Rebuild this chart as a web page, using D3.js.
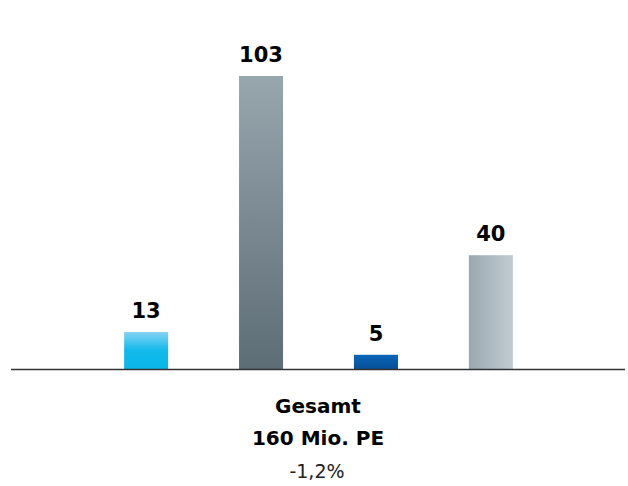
<!DOCTYPE html>
<html><head><meta charset="utf-8">
<script src="https://cdn.jsdelivr.net/npm/d3@7"></script>
<style>body{margin:0;background:#fff}svg{display:block}</style>
</head><body>
<script>
const categories = ["A","B","C","D"];
const values = [13,103,5,40];
const totalLabel = "Gesamt";
const totalValue = "160 Mio. PE";
const change = "-1,2%";

const W=628,H=486;
const svg=d3.select("body").append("svg").attr("width",W).attr("height",H);
const defs=svg.append("defs");
const grads=[
 {id:"g0",x2:"0",y2:"1",stops:[["0%","#86d3f3"],["50%","#12b9eb"],["100%","#0ab6e9"]]},
 {id:"g1",x2:"0",y2:"1",stops:[["0%","#98a6ae"],["100%","#5d6d75"]]},
 {id:"g2",x2:"0",y2:"1",stops:[["0%","#0b66b8"],["100%","#064f97"]]},
 {id:"g3",x2:"1",y2:"0",stops:[["0%","#9aa8b0"],["100%","#c1ccd2"]]}
];
grads.forEach(g=>{
 const lg=defs.append("linearGradient").attr("id",g.id).attr("x1","0").attr("y1","0").attr("x2",g.x2).attr("y2",g.y2);
 g.stops.forEach(s=>lg.append("stop").attr("offset",s[0]).attr("stop-color",s[1]));
});
const base=369;
const x=d3.scaleBand().domain(categories).range([88.5,548.5]).paddingInner(0.617).paddingOuter(0.31);
const y=d3.scaleLinear().domain([0,103]).range([base,76]);
const font="'DejaVu Sans', sans-serif";
svg.selectAll("rect.bar").data(values).join("rect").attr("class","bar")
 .attr("x",(d,i)=>x(categories[i])).attr("width",x.bandwidth())
 .attr("y",d=>y(d)).attr("height",d=>base-y(d))
 .attr("fill",(d,i)=>`url(#g${i})`);
svg.selectAll("text.val").data(values).join("text").attr("class","val")
 .attr("x",(d,i)=>x(categories[i])+x.bandwidth()/2).attr("y",d=>y(d)-14)
 .attr("text-anchor","middle").attr("font-family",font).attr("font-weight",700)
 .attr("font-size",21).attr("fill","#000").text(d=>d);
svg.append("line").attr("x1",11).attr("x2",625).attr("y1",base+0.5).attr("y2",base+0.5)
 .attr("stroke","#333").attr("stroke-width",1.5);
svg.append("text").attr("x",318).attr("y",413).attr("text-anchor","middle").attr("font-family",font)
 .attr("font-weight",700).attr("font-size",20).attr("fill","#000").text(totalLabel);
svg.append("text").attr("x",318).attr("y",445).attr("text-anchor","middle").attr("font-family",font)
 .attr("font-weight",700).attr("font-size",20).attr("fill","#000").text(totalValue);
svg.append("text").attr("x",317).attr("y",478).attr("text-anchor","middle").attr("font-family",font)
 .attr("font-weight",400).attr("font-size",19).attr("fill","#222").text(change);
</script>
</body></html>
